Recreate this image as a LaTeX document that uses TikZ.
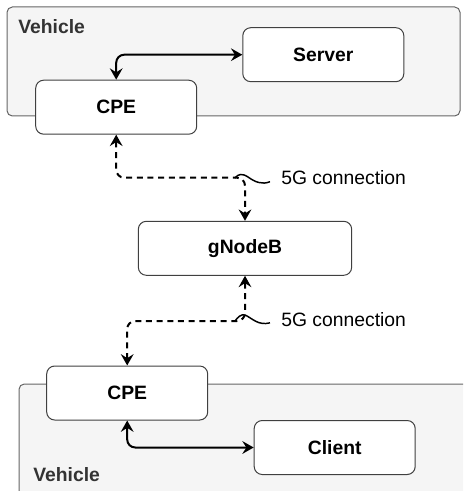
\documentclass[tikz,border=0pt]{standalone}
\usepackage{fontspec}
\setmainfont{Liberation Sans}
\usetikzlibrary{arrows.meta}
\definecolor{zonefill}{HTML}{F5F5F5}
\definecolor{zoneline}{HTML}{666666}
\definecolor{zonetext}{HTML}{333333}

\begin{document}
\begin{tikzpicture}[x=0.75pt, y=-0.75pt,
        box/.style={draw=black!75, fill=white, rounded corners=6pt, line width=0.75pt,
            minimum width=120.75pt, minimum height=40.5pt, font=\fontsize{14.5}{17}\selectfont\bfseries},
        zone/.style={draw=zoneline, fill=zonefill, rounded corners=4pt, line width=0.75pt},
        zonetag/.style={anchor=west, inner sep=0pt, text=zonetext, font=\fontsize{14.5}{17}\selectfont\bfseries},
        tip/.tip={Stealth[length=8.5pt, width=9.5pt, inset=3pt]},
        link/.style={line width=1.5pt, rounded corners=6pt, tip-tip},
        radio/.style={link, dash pattern=on 4.5pt off 3.5pt},
        radiotag/.style={anchor=west, inner xsep=8.25pt, inner ysep=0pt, font=\fontsize{14.5}{17}\selectfont},
    ]
    \clip (0,0) rectangle (463,491);
    \useasboundingbox (0,0) rectangle (463,491);

    \draw[zone] (7,7) rectangle (460,116);
    \node[zonetag] (veh1) at (18,27) {Vehicle};
    \draw[zone] (19,384) rectangle (490,520);
    \node[zonetag] (veh2) at (33,475) {Vehicle};

    \node[box] (server) at (323.3,54.7) {Server};
    \node[box] (cpe1) at (116.2,107.2) {CPE};
    \node[box, minimum width=160pt] (gnb) at (245,248.3) {gNodeB};
    \node[box] (cpe2) at (127.2,393) {CPE};
    \node[box] (client) at (334.7,447.5) {Client};

    \draw[link] (cpe1.north) |- (server.west);
    \draw[link] (cpe2.south) |- (client.west);

    \coordinate (split1) at (245,177.7);
    \coordinate (split2) at (245,321);
    \draw[radio] (cpe1.south) |- (split1) -- (gnb.north);
    \draw[radio] (gnb.south) -- (split2) -| (cpe2.north);

    \node[radiotag] (tag1) at (270,177.7) {5G connection};
    \node[radiotag] (tag2) at (270,319.5) {5G connection};
    \draw[line width=1.1pt] (235,178) .. controls (238,174) and (242,173) .. (248,177)
        .. controls (255,182) and (262,185) .. ([yshift=-3pt]tag1.west);
    \draw[line width=1.1pt] (235,321) .. controls (238,317) and (241,314) .. (245,315)
        .. controls (252,318) and (258,326) .. ([yshift=-2.5pt]tag2.west);
\end{tikzpicture}
\end{document}
